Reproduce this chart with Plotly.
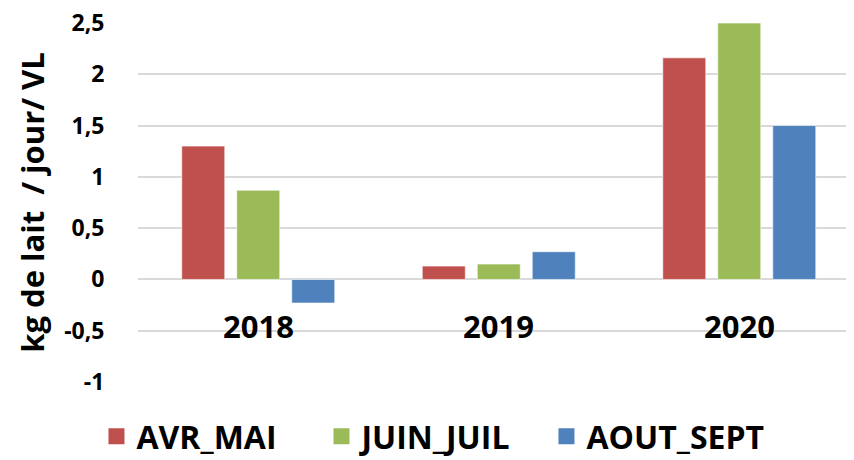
import plotly.graph_objects as go

categories = ["2018", "2019", "2020"]
avr_mai = [1.30, 0.13, 2.16]
juin_juil = [0.87, 0.15, 2.50]
aout_sept = [-0.23, 0.27, 1.50]
series_names = ["AVR_MAI", "JUIN_JUIL", "AOUT_SEPT"]
colors = ["#C0504D", "#9BBB59", "#4F81BD"]
tick_vals = [-1, -0.5, 0, 0.5, 1, 1.5, 2, 2.5]
tick_text = ["-1", "-0,5", "0", "0,5", "1", "1,5", "2", "2,5"]
y_title = "kg de lait\u00a0\u00a0/ jour/ VL"

FONT = "Open Sans"

fig = go.Figure()
for name, vals, col in zip(series_names, [avr_mai, juin_juil, aout_sept], colors):
    fig.add_trace(go.Bar(
        x=categories, y=vals, name=name, showlegend=False,
        marker=dict(color=col, line=dict(color="rgba(255,255,255,0.6)", width=1)),
    ))
# legend entries (square swatches)
for name, col in zip(series_names, colors):
    fig.add_trace(go.Scatter(
        x=[None], y=[None], mode="markers", name=name, showlegend=True,
        marker=dict(symbol="square", size=18, color=col),
    ))

for i, c in enumerate(categories):
    fig.add_annotation(x=i, y=-0.45, xref="x", yref="y", text="<b>%s</b>" % c,
                       showarrow=False, font=dict(family=FONT, size=31, color="#000000"))

# page body adds an 8px offset; figure is sized/marginned to compensate
fig.update_layout(
    width=846, height=452,
    margin=dict(l=130, r=0, t=15, b=78, autoexpand=False),
    paper_bgcolor="white", plot_bgcolor="white",
    barmode="group", bargap=0.314, bargroupgap=0.218,
    font=dict(family=FONT, color="#000000"),
    showlegend=True,
    legend=dict(orientation="h", x=-0.058, xanchor="left", y=-0.152, yanchor="middle",
                font=dict(family=FONT, size=32, color="#000000", weight="bold"),
                itemwidth=30, entrywidth=180, traceorder="normal"),
    xaxis=dict(type="category", range=[-0.5, 2.477], showticklabels=False, showgrid=False,
               zeroline=False, showline=False, ticks="", automargin=False),
    yaxis=dict(range=[-1, 2.5], tickvals=tick_vals, ticktext=tick_text,
               showgrid=True, gridcolor="#D9D9D9", gridwidth=2,
               zeroline=True, zerolinecolor="#D9D9D9", zerolinewidth=2,
               showline=False, ticks="outside", ticklen=28, tickcolor="rgba(0,0,0,0)",
               automargin=False, ticklabeloverflow="allow",
               tickfont=dict(family=FONT, size=23, color="#000000", weight="bold"),
               title=dict(text="<b>%s</b>" % y_title, standoff=10,
                          font=dict(family=FONT, size=31, color="#000000"))),
)

fig.write_html("out.html")
